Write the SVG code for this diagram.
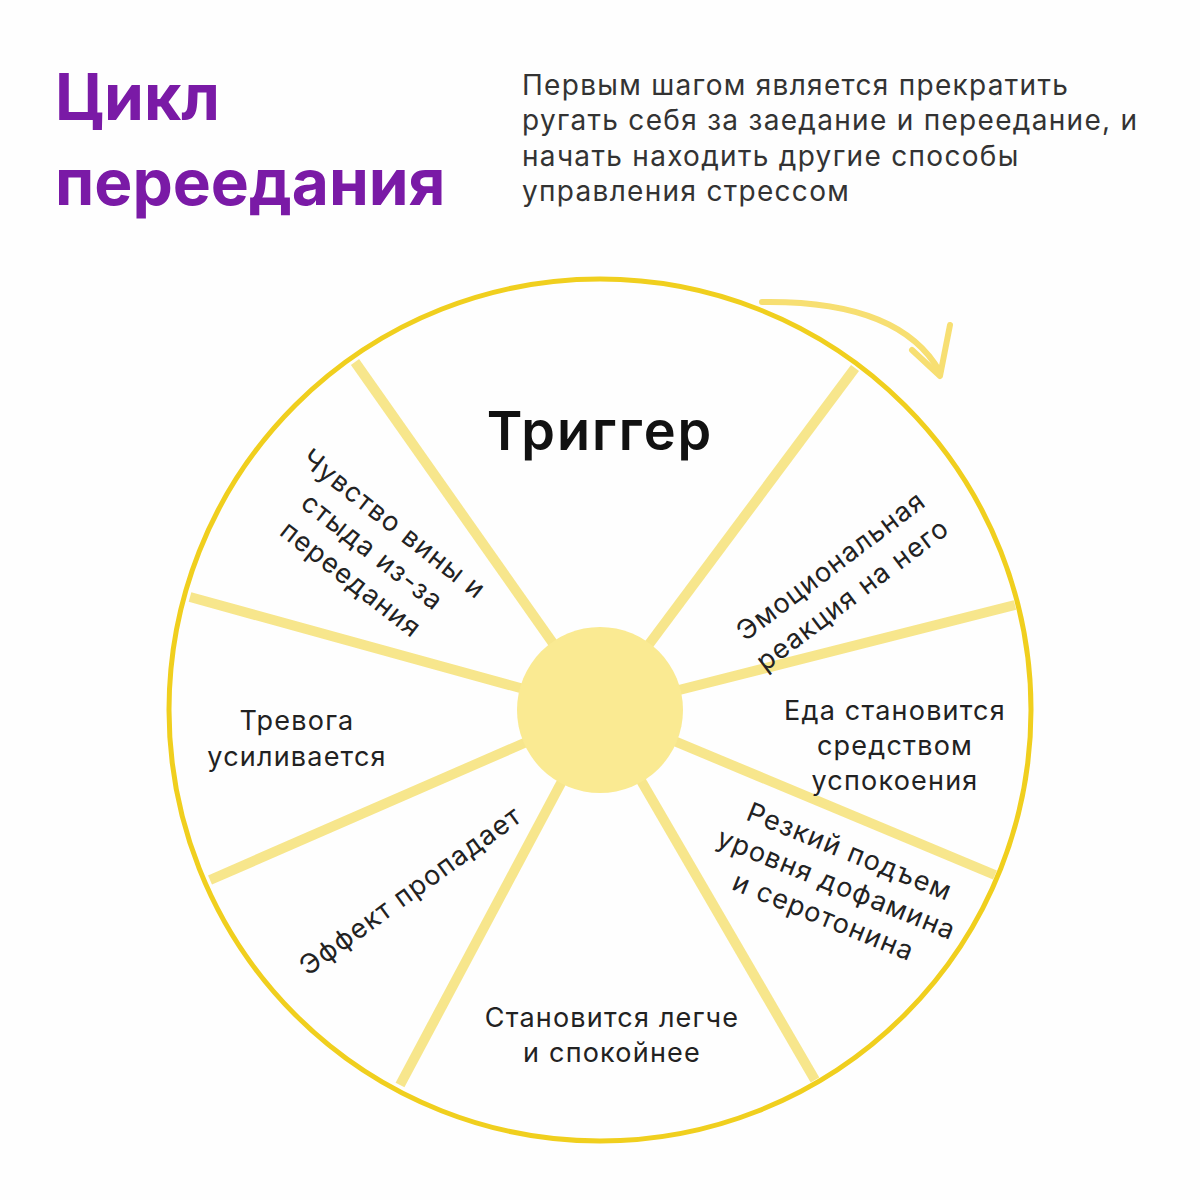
<svg xmlns="http://www.w3.org/2000/svg" width="1200" height="1200" viewBox="0 0 1200 1200">
<style>
.t{font-family:Inter,"Open Sans",sans-serif;font-size:27px;fill:#222;text-anchor:middle;letter-spacing:1.2px}
.sp{stroke:#f7e68c;stroke-width:10;stroke-linecap:butt}
</style>
<rect width="1200" height="1200" fill="#fefefe"/>
<g id="title"><text x="55" y="120" font-family="Inter,'Open Sans',sans-serif" font-weight="700" font-size="64" fill="#7a1aa6">Цикл</text>
<text x="55" y="205" font-family="Inter,'Open Sans',sans-serif" font-weight="700" font-size="64" fill="#7a1aa6">переедания</text></g>
<g id="intro" font-family="Inter,'Open Sans',sans-serif" font-size="28" fill="#333" letter-spacing="1.3">
<text x="522" y="95">Первым шагом является прекратить</text>
<text x="522" y="130">ругать себя за заедание и переедание, и</text>
<text x="522" y="166">начать находить другие способы</text>
<text x="522" y="201">управления стрессом</text></g>
<g id="connectors">
<line class="sp" x1="355" y1="362" x2="600" y2="710"/>
<line class="sp" x1="855" y1="368" x2="600" y2="710"/>
<line class="sp" x1="190" y1="597" x2="600" y2="710"/>
<line class="sp" x1="1015" y1="605" x2="600" y2="710"/>
<line class="sp" x1="210" y1="880" x2="600" y2="710"/>
<line class="sp" x1="995" y1="875" x2="600" y2="710"/>
<line class="sp" x1="400" y1="1085" x2="600" y2="710"/>
<line class="sp" x1="815" y1="1080" x2="600" y2="710"/>
<path d="M762 302 Q900 300 940 372" fill="none" stroke="#f7df72" stroke-width="6" stroke-linecap="round"/>
<path d="M912 350 L940 376 L950 325" fill="none" stroke="#f7df72" stroke-width="6" stroke-linecap="round" stroke-linejoin="round"/>
</g>
<g id="wheel"><circle cx="600" cy="710" r="431" fill="none" stroke="#f0cf1e" stroke-width="5"/></g>
<g id="center"><circle cx="600" cy="710" r="83" fill="#faea92"/></g>
<g id="n-trigger"><text x="600" y="450" font-family="Inter,'Open Sans',sans-serif" font-weight="600" font-size="54" fill="#111" text-anchor="middle" letter-spacing="2">Триггер</text></g>
<g id="n-emo" transform="translate(840,578) rotate(-37)"><text class="t" y="-6">Эмоциональная</text><text class="t" y="30">реакция на него</text></g>
<g id="n-food"><text class="t" x="895" y="720">Еда становится</text><text class="t" x="895" y="755">средством</text><text class="t" x="895" y="790">успокоения</text></g>
<g id="n-dopa" transform="translate(835,888) rotate(22)"><text class="t" y="-30">Резкий подъем</text><text class="t" y="5">уровня дофамина</text><text class="t" y="40">и серотонина</text></g>
<g id="n-calm"><text class="t" x="612" y="1027">Становится легче</text><text class="t" x="612" y="1062">и спокойнее</text></g>
<g id="n-effect" transform="translate(410,890) rotate(-36)"><text class="t" y="10">Эффект пропадает</text></g>
<g id="n-anx"><text class="t" x="297" y="730">Тревога</text><text class="t" x="297" y="766">усиливается</text></g>
<g id="n-guilt" transform="translate(370,555) rotate(38)"><text class="t" y="-30">Чувство вины и</text><text class="t" y="5">стыда из-за</text><text class="t" y="40">переедания</text></g>
</svg>
